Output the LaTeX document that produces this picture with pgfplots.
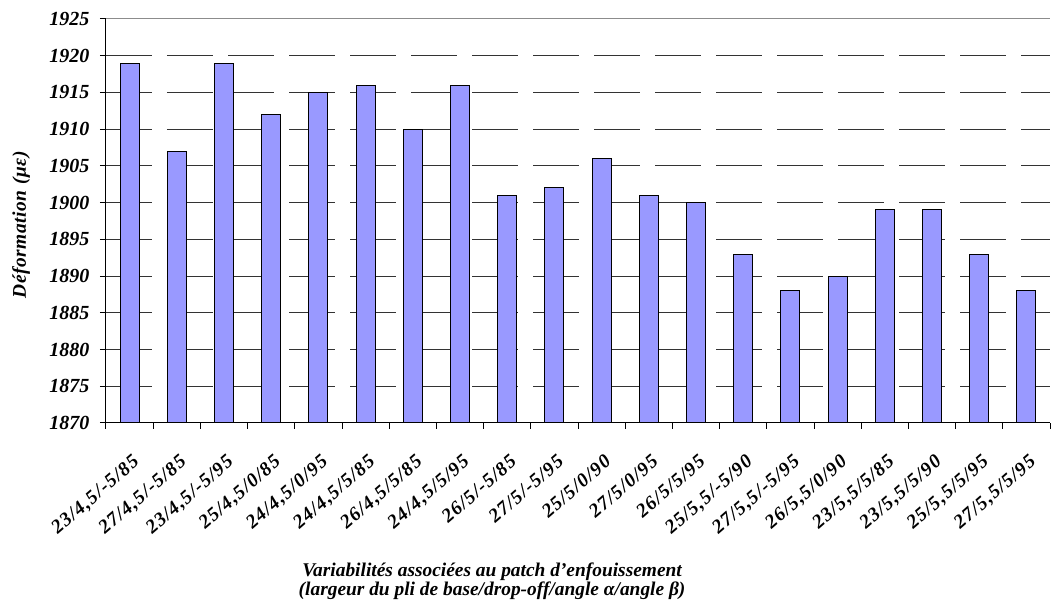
\documentclass[border=0pt]{standalone}
\usepackage{fontspec}
\setmainfont{Liberation Serif}
\usepackage{pgfplots}
\pgfplotsset{compat=1.18}
\definecolor{barfill}{HTML}{9999FF}
\begin{document}
\begin{tikzpicture}
\path[use as bounding box] (-106pt,-189pt) rectangle (949pt,423pt);
\begin{axis}[
  at={(0pt,0pt)}, anchor=south west,
  scale only axis, width=944pt, height=404pt,
  ymin=1870, ymax=1925, xmin=-0.5, xmax=19.5,
  axis x line*=bottom, axis y line*=left,
  axis line style={black, line width=1pt},
  ybar, bar width=0.4,
  ytick={1870,1875,...,1920},
  extra y ticks={1925},
  extra y tick style={major grid style={solid, black!45, line width=1pt, dash pattern=}},
  ymajorgrids,
  major grid style={black!80, line width=1pt, dash pattern=on 46pt off 15pt},
  tick align=outside, major tick length=6pt,
  tick style={black, line width=1pt},
  xtick={-0.5,0.5,...,19.5}, xticklabels={},
  extra x ticks={0,1,...,19},
  extra x tick labels={{23/4,5/-5/85},{27/4,5/-5/85},{23/4,5/-5/95},{25/4,5/0/85},{24/4,5/0/95},{24/4,5/5/85},{26/4,5/5/85},{24/4,5/5/95},{26/5/-5/85},{27/5/-5/95},{25/5/0/90},{27/5/0/95},{26/5/5/95},{25/5,5/-5/90},{27/5,5/-5/95},{26/5,5/0/90},{23/5,5/5/85},{23/5,5/5/90},{25/5,5/5/95},{27/5,5/5/95}},
  extra x tick style={major tick length=0pt},
  yticklabel style={font=\fontsize{20}{20}\selectfont\bfseries\itshape, xshift=-7pt},
  xticklabel style={font=\fontsize{19.5}{19}\selectfont\bfseries\itshape\addfontfeature{LetterSpace=6}, xshift=2pt, yshift=-29pt, rotate=41, anchor=north east, inner sep=1pt},
  /pgf/number format/assume math mode=true,
  /pgf/number format/1000 sep={},
  label style={font=\fontsize{19.4}{19}\selectfont\bfseries\itshape},
  ylabel={\addfontfeature{LetterSpace=3}Déformation (με)},
  ylabel style={at={([xshift=-85pt]rel axis cs:0,0.49)}, anchor=center},
  xlabel={Variabilités associées au patch d’enfouissement\\(largeur du pli de base/drop-off/angle α/angle β)},
  xlabel style={align=center, at={(rel axis cs:0.409,0)}, anchor=north, yshift=-140pt, inner sep=0pt},
]
\addplot[fill=barfill, draw=black, line width=1pt] coordinates {
(0,1919) (1,1907) (2,1919) (3,1912) (4,1915) (5,1916) (6,1910) (7,1916) (8,1901) (9,1902)
(10,1906) (11,1901) (12,1900) (13,1893) (14,1888) (15,1890) (16,1899) (17,1899) (18,1893) (19,1888)
};
\end{axis}
\end{tikzpicture}
\end{document}
